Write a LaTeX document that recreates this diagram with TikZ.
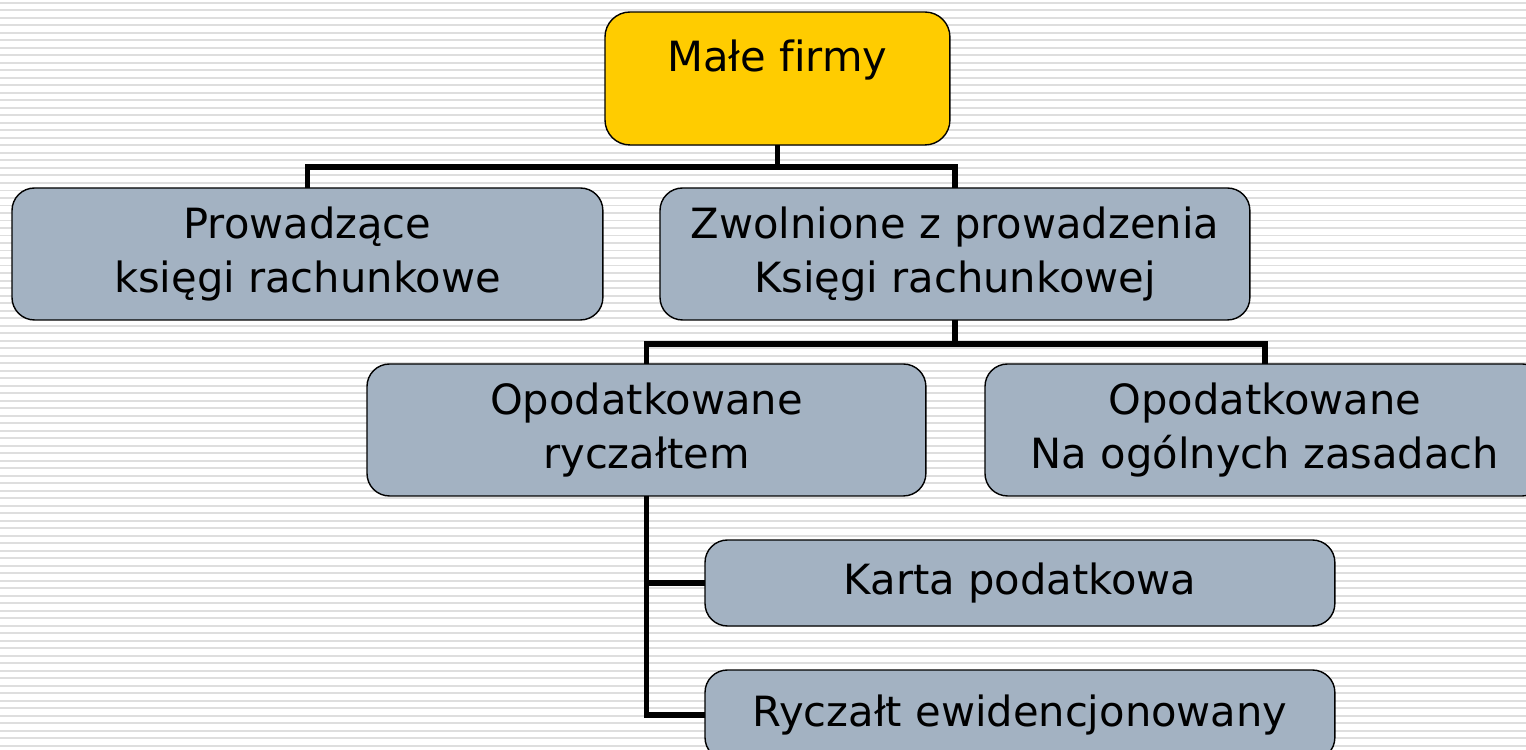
\documentclass[tikz,border=0pt]{standalone}
\usepackage{fontspec}
\setmainfont[Ligatures=NoCommon]{DejaVu Sans}
\usepackage{tikz}
\usetikzlibrary{positioning, calc}

\definecolor{firmyellow}{RGB}{255,204,0}
\definecolor{boxgray}{RGB}{163,178,194}

\begin{document}
\begin{tikzpicture}[x=0.02cm, y=-0.02cm]
\tikzset{every node/.style={outer sep=0mm, font=\fontsize{23.7pt}{30.2pt}\selectfont}}

\tikzstyle{box}=[rectangle, rounded corners=0.45cm, draw=black, line width=0.8pt, fill=boxgray, align=center, anchor=north west]
\tikzstyle{topbox}=[box, fill=firmyellow, rounded corners=0.5cm]
\tikzstyle{link}=[line width=3.3pt, line join=miter]
\tikzstyle{stripe}=[line width=0.04cm, black!13]

\useasboundingbox (0,0) rectangle (1526,750);
\clip (0,0) rectangle (1526,750);

% background
\fill[white] (0,0) rectangle (1526,750);
\foreach \y in {3,10.5,...,750}
    \draw[stripe] (0,\y) -- (1526,\y);

% boxes
\node[topbox, minimum width=6.9cm, text height=1.2cm, text depth=1.46cm, inner ysep=0pt] (male) at (605,12) {Małe firmy};

\node[box, minimum width=11.82cm, minimum height=2.64cm] (prow) at (12,188) {Prowadzące\\księgi rachunkowe};
\node[box, minimum width=11.8cm, minimum height=2.64cm] (zwol) at (660,188) {Zwolnione z prowadzenia\\Księgi rachunkowej};

\node[box, minimum width=11.18cm, minimum height=2.64cm] (opryc) at (367,364) {Opodatkowane\\ryczałtem};
\node[box, minimum width=11.2cm, minimum height=2.64cm] (opogol) at (985,364) {Opodatkowane\\Na ogólnych zasadach};

\node[box, minimum width=12.6cm, minimum height=1.72cm] (karta) at (705,540) {Karta podatkowa};
\node[box, minimum width=12.6cm, minimum height=1.8cm] (ewid) at (705,670) {Ryczałt ewidencjonowany};

% connectors
\draw[link] (male.south) -- ++(0,22) -| (prow.north);
\draw[link] (male.south) -- ++(0,22) -| (zwol.north);
\draw[link] (zwol.south) -- ++(0,24) -| (opryc.north);
\draw[link] (zwol.south) -- ++(0,24) -| (opogol.north);
\draw[link] (opryc.south) |- (karta.west);
\draw[link] (opryc.south) |- (ewid.west);

\end{tikzpicture}
\end{document}
